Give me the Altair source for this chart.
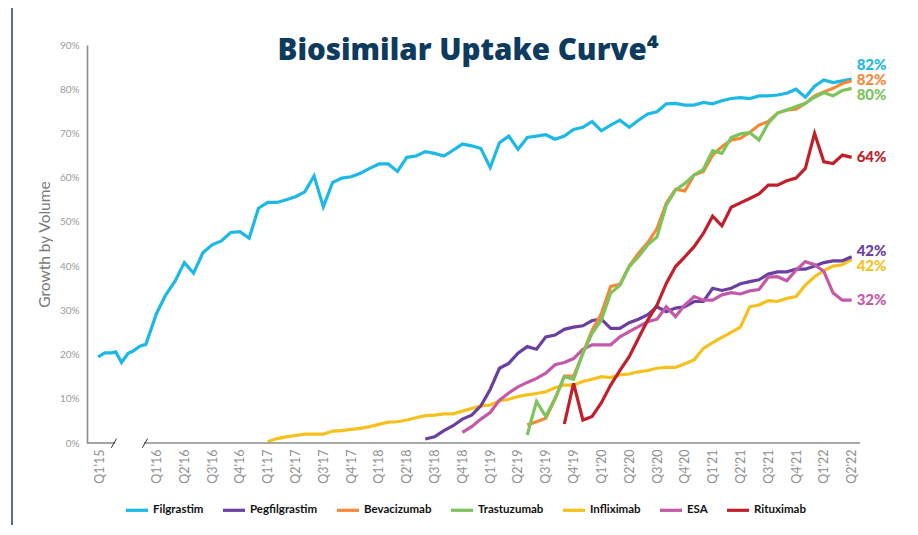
import altair as alt
import pandas as pd

# ---------------- data ----------------
# x position is in months, 0 = Jan 2016 (2015 segment sits in a compressed axis break)
series_names = ["Filgrastim", "Pegfilgrastim", "Bevacizumab", "Trastuzumab",
                "Infliximab", "ESA", "Rituximab"]
series_colors = ["#1cb9e6", "#6b3fa0", "#f5893a", "#7dc45c",
                 "#f6c11c", "#c459a9", "#c1202b"]
draw_order = ["Filgrastim", "Infliximab", "Pegfilgrastim", "ESA",
              "Bevacizumab", "Trastuzumab", "Rituximab"]

filgrastim_2015_pos = [-6.3, -5.58, -4.85, -4.39, -3.78, -3.06, -2.52, -1.8, -1.15]
filgrastim_2015 = [19.5, 20.4, 20.4, 20.6, 18.2, 20.3, 20.8, 21.9, 22.3]

filgrastim_start = 0
filgrastim = [29.3, 33.5, 36.6, 40.8, 38.4, 43.0, 44.8, 45.7, 47.6, 47.8,
              46.3, 53.1, 54.4, 54.4, 55.0, 55.7, 56.8, 60.4, 53.4, 58.9,
              59.9, 60.2, 61.0, 62.1, 63.1, 63.1, 61.4, 64.6, 64.9, 65.9,
              65.5, 64.9, 66.2, 67.6, 67.2, 66.6, 62.3, 67.9, 69.4, 66.4,
              69.1, 69.4, 69.7, 68.7, 69.4, 70.9, 71.4, 72.7, 70.6, 71.9,
              73.0, 71.4, 73.0, 74.4, 74.9, 76.7, 76.8, 76.4, 76.4, 77.0,
              76.7, 77.4, 77.9, 78.1, 77.9, 78.5, 78.5, 78.7, 79.1, 80.0,
              78.2, 80.7, 82.1, 81.5, 81.9, 82.3]

pegfilgrastim_start = 29
pegfilgrastim = [0.9, 1.4, 2.8, 3.9, 5.4, 6.3, 8.4, 12.1, 16.9, 18.0,
                 20.3, 21.8, 21.2, 24.0, 24.4, 25.7, 26.2, 26.5, 27.7, 28.0,
                 25.9, 25.9, 27.2, 28.0, 29.0, 30.8, 29.7, 30.5, 30.8, 32.0,
                 32.0, 35.0, 34.5, 35.0, 36.0, 36.5, 36.9, 38.2, 38.7, 38.7,
                 39.3, 39.3, 40.0, 40.8, 41.2, 41.2, 42.1]

bevacizumab_start = 40
bevacizumab = [4.1, 4.8, 5.6, 9.9, 15.1, 15.1, 20.3, 25.5, 29.3, 35.4,
               35.9, 40.0, 42.9, 45.3, 48.5, 54.2, 57.4, 57.0, 60.6, 61.4,
               65.1, 67.0, 68.5, 68.9, 70.2, 71.9, 72.7, 74.6, 75.3, 75.5,
               76.8, 78.5, 79.4, 80.2, 81.3, 81.9]

trastuzumab_start = 40
trastuzumab = [1.8, 9.4, 6.0, 10.1, 15.0, 14.4, 20.3, 24.8, 27.8, 33.9,
               35.7, 39.9, 42.1, 44.8, 46.6, 53.8, 57.2, 58.7, 60.6, 61.9,
               66.1, 65.5, 69.1, 69.9, 70.2, 68.5, 72.3, 74.6, 75.3, 76.1,
               76.8, 78.2, 79.2, 78.5, 79.7, 80.2]

infliximab_start = 12
infliximab = [0.3, 1.0, 1.4, 1.7, 2.0, 2.0, 2.0, 2.7, 2.8, 3.1,
              3.3, 3.7, 4.2, 4.7, 4.8, 5.2, 5.7, 6.2, 6.3, 6.6,
              6.6, 7.2, 7.8, 8.4, 8.6, 9.5, 9.9, 10.5, 10.9, 11.2,
              11.6, 12.5, 13.1, 13.1, 13.9, 14.4, 15.0, 14.8, 15.4, 15.6,
              16.1, 16.4, 16.9, 17.1, 17.1, 17.9, 18.8, 21.4, 22.7, 23.9,
              25.0, 26.2, 30.8, 31.2, 32.2, 32.0, 32.7, 33.1, 35.7, 37.6,
              39.0, 40.0, 40.3, 41.5]

esa_start = 33
esa = [2.4, 3.7, 5.4, 6.9, 9.7, 11.3, 12.7, 13.7, 14.6, 15.8,
       17.7, 18.2, 19.1, 21.2, 22.2, 22.2, 22.2, 24.0, 25.2, 26.3,
       27.4, 28.0, 30.8, 28.6, 31.2, 33.1, 32.3, 32.3, 33.5, 34.0,
       33.7, 34.4, 34.7, 37.5, 37.6, 36.7, 39.1, 41.0, 40.3, 38.8,
       33.9, 32.3, 32.3]

rituximab_start = 44
rituximab = [4.3, 13.5, 5.2, 6.0, 9.1, 13.1, 16.4, 19.5, 23.7, 27.8,
             31.2, 36.1, 39.9, 42.1, 44.4, 47.4, 51.3, 49.1, 53.3, 54.3,
             55.3, 56.3, 58.3, 58.3, 59.3, 59.9, 62.1, 70.0, 63.6, 63.2,
             65.1, 64.6]

end_labels = {"Filgrastim": "82%", "Bevacizumab": "82%", "Trastuzumab": "80%",
              "Rituximab": "64%", "Pegfilgrastim": "42%", "Infliximab": "42%",
              "ESA": "32%"}

tick_pos = [-6.1, 0, 3, 6, 9, 12, 15, 18, 21, 24, 27, 30, 33, 36, 39, 42, 45,
            48, 51, 54, 57, 60, 63, 66, 69, 72, 75]
tick_labels = ["Q1'15", "Q1'16", "Q2'16", "Q3'16", "Q4'16", "Q1'17", "Q2'17",
               "Q3'17", "Q4'17", "Q1'18", "Q2'18", "Q3'18", "Q4'18", "Q1'19",
               "Q2'19", "Q3'19", "Q4'19", "Q1'20", "Q2'20", "Q3'20", "Q4'20",
               "Q1'21", "Q2'21", "Q3'21", "Q4'21", "Q1'22", "Q2'22"]
y_ticks = [0, 10, 20, 30, 40, 50, 60, 70, 80, 90]

title_text = "Biosimilar Uptake Curve\u2074"

# ---------------- build tables ----------------
series_data = {
    "Filgrastim": (filgrastim_start, filgrastim),
    "Pegfilgrastim": (pegfilgrastim_start, pegfilgrastim),
    "Bevacizumab": (bevacizumab_start, bevacizumab),
    "Trastuzumab": (trastuzumab_start, trastuzumab),
    "Infliximab": (infliximab_start, infliximab),
    "ESA": (esa_start, esa),
    "Rituximab": (rituximab_start, rituximab),
}
rows = []
for name in draw_order:
    if name == "Filgrastim":
        for p, v in zip(filgrastim_2015_pos, filgrastim_2015):
            rows.append({"series": name, "pos": p, "value": v})
    start, vals = series_data[name]
    for i, v in enumerate(vals):
        rows.append({"series": name, "pos": start + i, "value": v})
df = pd.DataFrame(rows)

X_MIN, X_MAX = -7.5, 75.9
xscale = alt.Scale(domain=[X_MIN, X_MAX], nice=False, zero=False)
yscale = alt.Scale(domain=[0, 90], nice=False, zero=False)

label_expr = "{}[indexof({}, datum.value)]".format(
    "[" + ",".join('"%s"' % t for t in tick_labels) + "]",
    "[" + ",".join(str(p) for p in tick_pos) + "]")

x_axis = alt.Axis(values=tick_pos, labelExpr=label_expr, labelAngle=-90,
                  domain=False, ticks=False, grid=False, title=None,
                  labelColor="#8f8f8f", labelFontSize=12.5, labelFont="Lato",
                  labelPadding=6, labelOverlap=False, labelBound=False,
                  labelFlush=False)
y_axis = alt.Axis(values=y_ticks, labelExpr="datum.value + '%'",
                  domain=True, domainColor="#8c8c8c", domainWidth=1.6,
                  ticks=False, grid=False, labelColor="#9a9a9a",
                  labelFontSize=10, labelFont="Lato", labelPadding=8,
                  title="Growth by Volume", titleColor="#7a7a7a",
                  titleFontSize=15.5, titleFont="Lato",
                  titleFontWeight="normal", titlePadding=7)

lines = alt.Chart(df).mark_line(strokeJoin="miter").encode(
    x=alt.X("pos:Q", scale=xscale, axis=x_axis),
    y=alt.Y("value:Q", scale=yscale, axis=y_axis),
    color=alt.Color("series:N",
                    scale=alt.Scale(domain=series_names, range=series_colors),
                    legend=alt.Legend(title=None, orient="none", direction="horizontal",
                                      legendX=37, legendY=452, symbolType="stroke",
                                      symbolStrokeWidth=4, symbolSize=484,
                                      labelFont="Lato", labelFontWeight="bold",
                                      labelFontSize=11.5, labelColor="#111111",
                                      columnPadding=12, labelOffset=3)),
    strokeWidth=alt.StrokeWidth("series:N",
                                scale=alt.Scale(domain=series_names,
                                                range=[3.2, 3.2, 3.2, 3.2, 3.2, 4.4, 3.2]),
                                legend=None),
    detail="series:N",
)

# broken x axis line
axis_df = pd.DataFrame({"pos": [X_MIN, -1.35], "pos2": [-4.45, X_MAX], "value": [0, 0]})
axis_line = alt.Chart(axis_df).mark_rule(color="#8c8c8c", strokeWidth=1.6).encode(
    x=alt.X("pos:Q", scale=xscale, axis=x_axis), x2="pos2:Q",
    y=alt.Y("value:Q", scale=yscale, axis=y_axis))

break_centers = [-4.6, -1.25]
break_df = pd.DataFrame({"pos": [c - 0.28 for c in break_centers],
                         "pos2": [c + 0.28 for c in break_centers],
                         "value": [-1.1] * 2, "value2": [1.0] * 2})
breaks = alt.Chart(break_df).mark_rule(color="#333333", strokeWidth=1).encode(
    x=alt.X("pos:Q", scale=xscale, axis=x_axis), x2="pos2:Q",
    y=alt.Y("value:Q", scale=yscale, axis=y_axis), y2="value2:Q")

# end labels
label_dy = {"Filgrastim": -14, "Bevacizumab": -1, "Trastuzumab": 7,
            "Rituximab": 0, "Pegfilgrastim": -6, "Infliximab": 7, "ESA": 0}
label_layers = []
for name, color in zip(series_names, series_colors):
    start, vals = series_data[name]
    ldf = pd.DataFrame({"pos": [start + len(vals) - 1], "value": [vals[-1]],
                        "label": [end_labels[name]]})
    label_layers.append(
        alt.Chart(ldf).mark_text(align="left", baseline="middle", dx=5,
                                 dy=label_dy[name], font="Lato", fontWeight=900,
                                 fontSize=15, color=color).encode(
            x=alt.X("pos:Q", scale=xscale, axis=x_axis),
            y=alt.Y("value:Q", scale=yscale, axis=y_axis),
            text="label:N"))

one = pd.DataFrame({"t": [title_text]})
title = alt.Chart(one).mark_text(font="Open Sans", fontWeight=800, fontSize=29.5,
                                 color="#0d3b5e", align="center",
                                 baseline="alphabetic").encode(
    x=alt.value(381), y=alt.value(15), text="t:N")

frame = alt.Chart(one).mark_rule(color="#1d3f66", strokeWidth=1.5).encode(
    x=alt.value(-75), y=alt.value(-45), y2=alt.value(520))

chart = alt.layer(frame, lines, axis_line, breaks, *label_layers, title).properties(
    width=773, height=398,
    autosize=alt.AutoSizeParams(type="none"),
    padding={"left": 79, "top": 37, "right": 50, "bottom": 82},
).configure(background="white").configure_view(stroke=None).configure_axisX(
    labelOverlap=False)

chart.save("out.html", embed_options={"renderer": "svg", "actions": False})
